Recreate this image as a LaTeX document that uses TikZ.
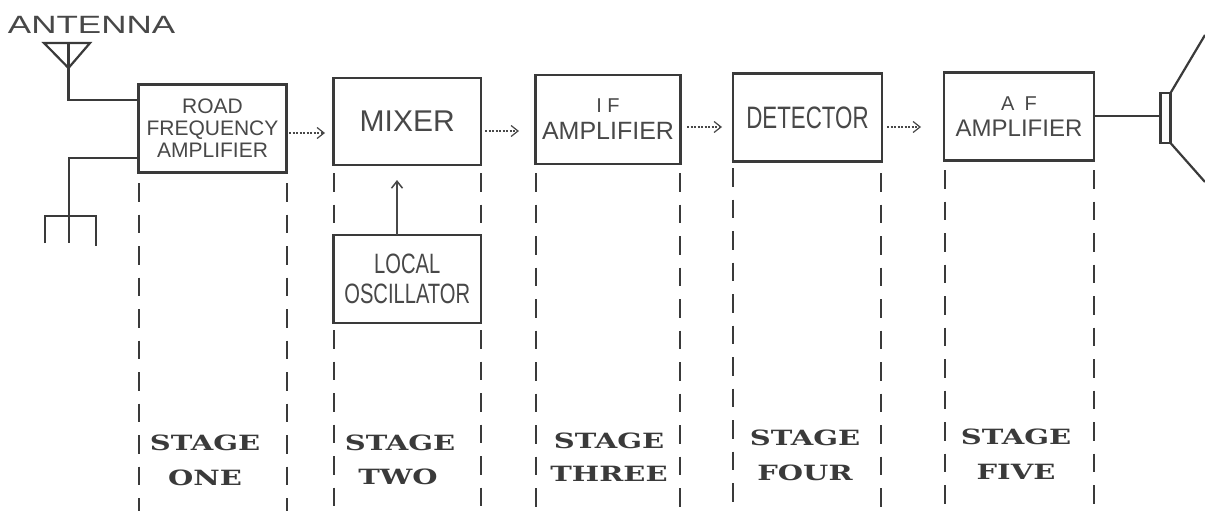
\documentclass[tikz,border=0pt]{standalone}
\usepackage{fontspec}
\setmainfont{Liberation Sans}
\newfontfamily\stagefont{DejaVu Serif Bold}[FakeStretch=1.38]
\newfontfamily\widefont{Liberation Sans}[FakeStretch=1.4]
\newfontfamily\narrowfont{Liberation Sans}[FakeStretch=0.72]
\usetikzlibrary{arrows.meta}
\definecolor{ink}{HTML}{3A3A3A}
\definecolor{txt}{HTML}{484848}
\tikzset{
  x=1pt,y=-1pt,
  every node/.style={inner sep=0pt,outer sep=0pt,text=txt},
  blockbox/.style={draw=ink,line width=2.8pt,fill=white,align=center,anchor=north west},
  wire/.style={draw=ink,line width=2.2pt,line join=miter},
  sigtip/.style={-{Straight Barb[length=7pt,width=11pt]}},
  sig/.style={sigtip,draw=txt,line width=1.2pt,dash pattern=on 2pt off 1.5pt},
  solidsig/.style={sigtip,draw=txt,line width=1.5pt},
  guide/.style={draw=ink,line width=1.7pt,dash pattern=on 18.5pt off 13pt},
  stagelab/.style={font=\stagefont\fontsize{21}{21}\selectfont,text=ink,anchor=center},
}
\newcommand{\blk}[7]{\node[blockbox,minimum width=#4pt,minimum height=#5pt,font=#7] (#1) at (#2,#3) {#6};}
\begin{document}
\begin{tikzpicture}
\useasboundingbox (0,0) rectangle (1205,511);
\fill[white] (0,0) rectangle (1205,511);
% guides
\foreach \n/\xa/\ya/\yb in {a/139/183/511,b/287/183/511,c/334/173/225,d/481/173/225,cc/334/330/511,dd/481/330/511,e/536/173/511,f/680/173/511,g/733/168/511,h/881/173/511,i/945/170/511,j/1094/170/511}{
  \coordinate (t\n) at (\xa,\ya);
  \coordinate (u\n) at (\xa,\yb);
  \draw[guide] (t\n) -- (u\n);
}
% blocks
\blk{rf}{138.5}{84.5}{148}{88}{ROAD\\FREQUENCY\\AMPLIFIER}{\fontsize{21}{22}\selectfont}
\blk{mix}{333.5}{78}{147.5}{87}{\raisebox{-2pt}{MIXER}}{\fontsize{30}{32}\selectfont}
\blk{ifa}{535.5}{75}{145}{89}{\raisebox{-3pt}{\fontsize{20}{27}\selectfont I F}\\[0pt]\raisebox{-3pt}{AMPLIFIER}}{\fontsize{25}{27}\selectfont}
\blk{det}{733}{73.5}{149}{88}{\raisebox{-4pt}{DETECTOR}}{\narrowfont\fontsize{31}{33}\selectfont}
\blk{af}{944}{72.5}{150}{88}{{\fontsize{20}{26}\selectfont A\enspace F}\\AMPLIFIER}{\fontsize{24}{26}\selectfont}
\blk{lo}{333.5}{235}{147.5}{88}{LOCAL\\OSCILLATOR}{\narrowfont\fontsize{28}{30}\selectfont}
% signal arrows
\coordinate (r1) at (289,133);
\coordinate (r2) at (325,133);
\coordinate (m1) at (485,131);
\coordinate (m2) at (519,131);
\coordinate (i1) at (687,127);
\coordinate (i2) at (722,127);
\coordinate (d1) at (887,127);
\coordinate (d2) at (921,127);
\coordinate (l1) at (397,235);
\coordinate (l2) at (397,180);
\draw[sig] (r1) -- (r2);
\draw[sig] (m1) -- (m2);
\draw[sig] (i1) -- (i2);
\draw[sig] (d1) -- (d2);
\draw[solidsig] (l1) -- (l2);
% antenna
\node[font=\widefont\fontsize{25}{25}\selectfont,anchor=west] (ant) at (8,25) {ANTENNA};
\coordinate (antT) at (68.5,68);
\draw[wire] (44,43) -- (90,43) -- (antT) -- cycle;
\draw[wire] (68.5,43) -- (antT) -- (68.5,100) -- (rf.west |- 0,100);
% ground
\coordinate (gj) at (69,216);
\draw[wire] (rf.west |- 0,158) -- (69,158) -- (gj);
\draw[wire] (45,243) -- (45,216) -- (96,216) -- (96,246);
\draw[wire] (gj) -- (69,243);
% speaker
\node[draw=ink,fill=white,line width=2.4pt,minimum width=10pt,minimum height=50pt] (spk) at (1165.5,118) {};
\draw[wire] (af.east |- 0,116) -- (spk.west |- 0,116);
\draw[wire] (spk.north east) -- (1205,35);
\draw[wire] (spk.south east) -- (1205,182);
% stage labels
\node[stagelab] (s1a) at (205,443) {STAGE};
\node[stagelab] (s1b) at (205,478) {ONE};
\node[stagelab] (s2a) at (400,443) {STAGE};
\node[stagelab] (s2b) at (398,477) {TWO};
\node[stagelab] (s3a) at (609,441) {STAGE};
\node[stagelab] (s3b) at (609,474) {THREE};
\node[stagelab] (s4a) at (805,438) {STAGE};
\node[stagelab] (s4b) at (805,473) {FOUR};
\node[stagelab] (s5a) at (1016,437) {STAGE};
\node[stagelab] (s5b) at (1016,472) {FIVE};
\end{tikzpicture}
\end{document}
